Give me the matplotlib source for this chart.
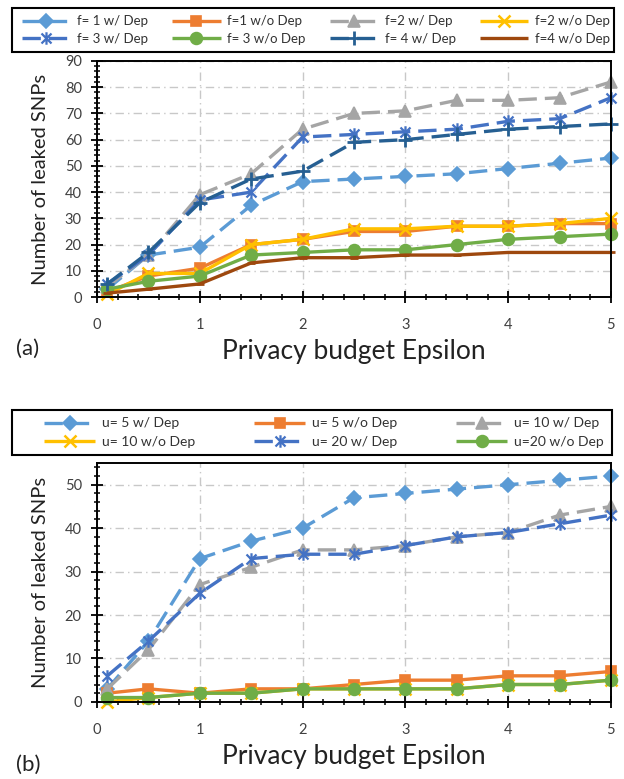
import matplotlib
matplotlib.use("Agg")
import matplotlib.pyplot as plt
from matplotlib.path import Path
from matplotlib.patches import Rectangle
from matplotlib.ticker import MultipleLocator

plt.rcParams['font.family'] = ['Lato', 'DejaVu Sans']

# Privacy budget values on the x axis
epsilon = [0.1, 0.5, 1, 1.5, 2, 2.5, 3, 3.5, 4, 4.5, 5]

# (a) leaked SNPs for different f
f1_dep = [3, 16, 19, 35, 44, 45, 46, 47, 49, 51, 53]
f1_nodep = [2, 8, 11, 20, 22, 25, 25, 27, 27, 28, 28]
f2_dep = [4, 16, 39, 47, 64, 70, 71, 75, 75, 76, 82]
f2_nodep = [1, 9, 9, 20, 22, 26, 26, 27, 27, 28, 30]
f3_dep = [5, 16, 37, 40, 61, 62, 63, 64, 67, 68, 76]
f3_nodep = [3, 6, 8, 16, 17, 18, 18, 20, 22, 23, 24]
f4_dep = [5, 17, 36, 45, 48, 59, 60, 62, 64, 65, 66]
f4_nodep = [1.5, 3, 5, 13, 15, 15, 16, 16, 17, 17, 17]

# (b) leaked SNPs for different u
u5_dep = [3, 14, 33, 37, 40, 47, 48, 49, 50, 51, 52]
u5_nodep = [2, 3, 2, 3, 3, 4, 5, 5, 6, 6, 7]
u10_dep = [3, 12, 27, 31, 35, 35, 36, 38, 39, 43, 45]
u10_nodep = [0, 1, 2, 2, 3, 3, 3, 3, 4, 4, 5]
u20_dep = [6, 14, 25, 33, 34, 34, 36, 38, 39, 41, 43]
u20_nodep = [1, 1, 2, 2, 3, 3, 3, 3, 4, 4, 5]

labels_a = ["f= 1 w/ Dep", "f=1 w/o Dep", "f=2 w/ Dep", "f=2 w/o Dep",
            "f= 3 w/ Dep", "f= 3 w/o Dep", "f= 4 w/ Dep", "f=4 w/o Dep"]
labels_b = ["u= 5 w/ Dep", "u= 5 w/o Dep", "u= 10 w/ Dep",
            "u= 10 w/o Dep", "u= 20 w/ Dep", "u=20 w/o Dep"]

LBLUE = "#5B9BD5"
ORANGE = "#ED7D31"
GRAY = "#A5A5A5"
YELLOW = "#FFC000"
BLUE = "#4472C4"
GREEN = "#70AD47"
DBLUE = "#265F92"
BROWN = "#9E480E"

# star marker: an X crossed by a vertical bar
star = Path([(-1, -1), (1, 1), (-1, 1), (1, -1), (0, -1.25), (0, 1.25)],
            [Path.MOVETO, Path.LINETO, Path.MOVETO, Path.LINETO,
             Path.MOVETO, Path.LINETO])

DASH = (5.5, 2.4)
LW = 2.4


def style(color, marker, dashed, ms=8, mew=1.2):
    kw = dict(color=color, lw=LW, marker=marker, markersize=ms,
              markerfacecolor=color, markeredgecolor=color,
              markeredgewidth=mew, solid_capstyle='butt')
    if dashed:
        kw['dashes'] = DASH
        kw['dash_capstyle'] = 'butt'
    return kw


series_a = [
    (f1_dep, style(LBLUE, 'D', True, ms=7.5)),
    (f1_nodep, style(ORANGE, 's', False, ms=7.5)),
    (f2_dep, style(GRAY, '^', True, ms=8.5)),
    (f2_nodep, style(YELLOW, 'x', False, ms=9, mew=1.8)),
    (f3_dep, style(BLUE, star, True, ms=9, mew=1.6)),
    (f3_nodep, style(GREEN, 'o', False, ms=8.5)),
    (f4_dep, style(DBLUE, '+', True, ms=10, mew=2.0)),
    (f4_nodep, style(BROWN, '_', False, ms=6, mew=2.0)),
]

series_b = [
    (u5_dep, style(LBLUE, 'D', True, ms=7.5)),
    (u5_nodep, style(ORANGE, 's', False, ms=7.5)),
    (u10_dep, style(GRAY, '^', True, ms=8.5)),
    (u10_nodep, style(YELLOW, 'x', False, ms=9, mew=1.8)),
    (u20_dep, style(BLUE, star, True, ms=9, mew=1.6)),
    (u20_nodep, style(GREEN, 'o', False, ms=8.5)),
]

W, H = 624, 779
fig = plt.figure(figsize=(W / 100, H / 100), dpi=100)
ax_a = fig.add_axes([0.1555, 0.6187, 0.8235, 0.3030])
ax_b = fig.add_axes([0.1555, 0.0990, 0.8235, 0.3066])


def setup(ax, ymax, ystep):
    ax.set_xlim(0, 5)
    ax.set_ylim(0, ymax)
    ax.xaxis.set_major_locator(MultipleLocator(1))
    ax.xaxis.set_minor_locator(MultipleLocator(0.2))
    ax.yaxis.set_major_locator(MultipleLocator(ystep))
    ax.yaxis.set_minor_locator(MultipleLocator(2))
    ax.tick_params(which='major', direction='inout', length=8, width=1.3,
                   labelsize=10.5, colors='black', labelcolor='#404040')
    ax.tick_params(which='minor', direction='inout', length=5, width=1.1)
    ax.tick_params(axis='x', which='major', pad=11)
    ax.tick_params(axis='y', which='major', pad=7)
    ax.grid(True, which='major', color='#C8C8C8', linestyle=(0, (6, 3, 1, 3)),
            lw=1.0)
    ax.set_axisbelow(True)
    for sp in ax.spines.values():
        sp.set_color('black')
        sp.set_linewidth(1.4)
    ax.set_ylabel("Number of leaked SNPs", fontsize=14.5, color='#222222',
                  labelpad=11)
    ax.set_xlabel("Privacy budget Epsilon", fontsize=19, color='#222222',
                  labelpad=5)


setup(ax_a, 90, 10)
setup(ax_b, 55, 10)

lines_a = []
for (vals, kw), lab in zip(series_a, labels_a):
    ln, = ax_a.plot(epsilon, vals, label=lab, clip_on=False, **kw)
    lines_a.append(ln)

lines_b = []
for (vals, kw), lab in zip(series_b, labels_b):
    ln, = ax_b.plot(epsilon, vals, label=lab, clip_on=False, **kw)
    lines_b.append(ln)


def framed_legend(handles, labels, ncol, inner, box, labelspacing, size):
    """Legend spread over `inner` (pixel x0, x1, y_top, y_bottom) and
    enclosed in a black box (pixel x0, x1, y_top, y_bottom)."""
    x0, x1, yt, yb = inner
    leg = fig.legend(handles, labels, ncol=ncol, mode='expand',
                     loc='center left',
                     bbox_to_anchor=(x0 / W, 1 - yb / H, (x1 - x0) / W,
                                     (yb - yt) / H),
                     fontsize=size, handlelength=3.7, handletextpad=0.5,
                     columnspacing=0.5, borderpad=0.0, borderaxespad=0.0,
                     labelspacing=labelspacing, frameon=False)
    for t in leg.get_texts():
        t.set_color('#333333')
    bx0, bx1, byt, byb = box
    fig.patches.append(Rectangle((bx0 / W, 1 - byb / H), (bx1 - bx0) / W,
                                 (byb - byt) / H, transform=fig.transFigure,
                                 fill=False, edgecolor='black', lw=1.5))
    return leg


# legends fill column by column, so reorder to read row by row
order_a = [0, 4, 1, 5, 2, 6, 3, 7]
framed_legend([lines_a[i] for i in order_a], [labels_a[i] for i in order_a],
              4, (22, 610, 10, 50), (12, 614, 8, 52), 0.4, 9.5)

order_b = [0, 3, 1, 4, 2, 5]
framed_legend([lines_b[i] for i in order_b], [labels_b[i] for i in order_b],
              3, (44, 604, 412, 453), (12, 612, 410, 455), 0.45, 10)

fig.text(28 / W, 1 - 349 / H, "(a)", fontsize=16, color='#222222',
         ha='center', va='center')
fig.text(28 / W, 1 - 765 / H, "(b)", fontsize=16, color='#222222',
         ha='center', va='center')

fig.savefig("out.png", dpi=100)
